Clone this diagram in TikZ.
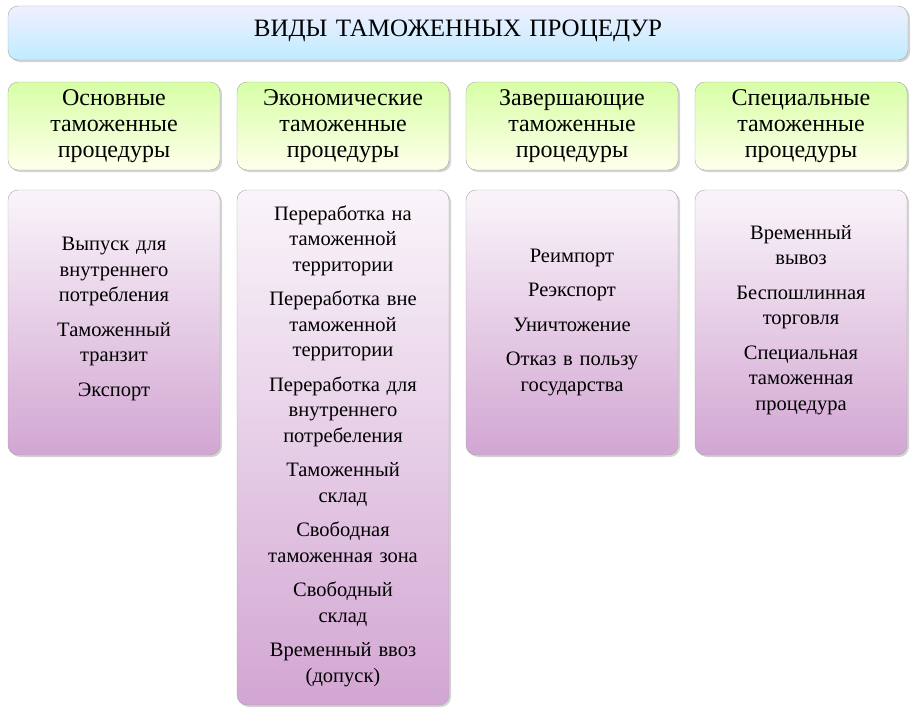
\documentclass[tikz,border=0pt]{standalone}
\usepackage{fontspec}
\setmainfont{Liberation Serif}
\usetikzlibrary{shadows}
\begin{document}
\begin{tikzpicture}[x=1pt,y=-1pt,
  base/.style={draw=gray!70, rounded corners=10pt, drop shadow={opacity=0.35,shadow xshift=2pt,shadow yshift=-2pt}},
  titlebox/.style={base, top color=white!60!blue!15, bottom color=blue!30!cyan!25!white},
  headbox/.style={base, top color=green!45!yellow!35, bottom color=yellow!8!white},
  itembox/.style={base, top color=violet!4!white, bottom color=violet!35!white},
  txt/.style={font=\fontsize{20.5}{25.5}\selectfont, align=center, text width=205pt, inner sep=0pt},
  htxt/.style={txt, font=\fontsize{24}{26}\selectfont}]
\useasboundingbox (0,0) rectangle (916,712);
\draw[titlebox] (8,6) rectangle (908,60);
\node[txt,text width=880pt,font=\fontsize{25}{28}\selectfont] (title) at (458,31) {ВИДЫ ТАМОЖЕННЫХ ПРОЦЕДУР};
\foreach \i/\x/\t in {1/8/{Основные\\таможенные\\процедуры},2/237/{Экономические\\таможенные\\процедуры},3/466/{Завершающие\\таможенные\\процедуры},4/695/{Специальные\\таможенные\\процедуры}}{
  \draw[headbox] (\x,82) rectangle ++(212,88);
  \node[htxt] (h\i) at (\x+106,126) {\t};
}
\draw[itembox] (8,190) rectangle (220,455);
\draw[itembox] (237,190) rectangle (449,705);
\draw[itembox] (466,190) rectangle (678,455);
\draw[itembox] (695,190) rectangle (907,455);
\node[txt] (b1) at (114,319) {Выпуск для\\внутреннего\\потребления\\[9pt]Таможенный\\транзит\\[9pt]Экспорт};
\node[txt] (b2) at (343,446) {Переработка на\\таможенной\\территории\\[9pt]Переработка вне\\таможенной\\территории\\[9pt]Переработка для\\внутреннего\\потребеления\\[9pt]Таможенный\\склад\\[9pt]Свободная\\таможенная зона\\[9pt]Свободный\\склад\\[9pt]Временный ввоз\\(допуск)};
\node[txt] (b3) at (572,322) {Реимпорт\\[9pt]Реэкспорт\\[9pt]Уничтожение\\[9pt]Отказ в пользу\\государства};
\node[txt] (b4) at (801,320) {Временный\\вывоз\\[9pt]Беспошлинная\\торговля\\[9pt]Специальная\\таможенная\\процедура};
\end{tikzpicture}
\end{document}
